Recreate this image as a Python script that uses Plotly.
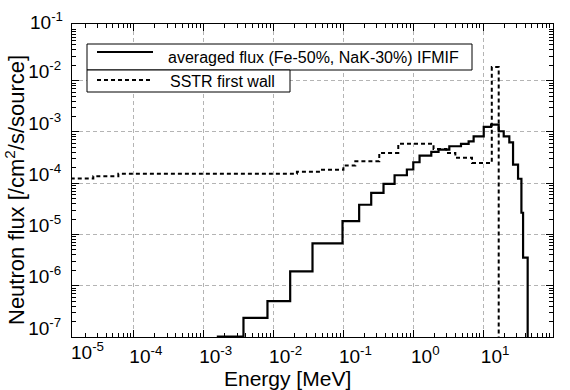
import plotly.graph_objects as go

# ---------------- data ----------------
# IFMIF averaged flux (Fe-50%, NaK-30%): bin edges [MeV] and flux per bin
ifmif_edges = [1.54e-3, 3.71e-3, 8.18e-3, 1.73e-2, 3.61e-2, 9.71e-2, 0.168, 0.25, 0.375,
               0.54, 0.81, 1.0, 1.23, 1.81, 2.3, 3.28, 4.82, 6.2, 7.31, 10.2, 13.0,
               16.7, 19.7, 23.7, 26.8, 31.6, 35.3, 37.3, 43.4]
ifmif_flux = [1.02e-7, 2.36e-7, 4.99e-7, 1.91e-6, 6.71e-6, 1.82e-5, 3.80e-5, 6.50e-5,
              9.73e-5, 1.43e-4, 1.85e-4, 2.56e-4, 3.46e-4, 4.08e-4, 4.53e-4, 5.25e-4,
              5.85e-4, 6.56e-4, 8.21e-4, 1.25e-3, 1.39e-3, 1.03e-3, 8.21e-4, 6.28e-4,
              2.31e-4, 1.22e-4, 2.65e-5, 3.54e-6]

# SSTR first wall
sstr_edges = [1.25e-5, 2.63e-5, 6.0e-5, 2.16e-2, 4.65e-2, 0.100, 0.148, 0.326, 0.61,
              1.95, 2.97, 4.0, 6.93, 13.3, 16.7]
sstr_flux = [1.23e-4, 1.37e-4, 1.53e-4, 1.67e-4, 1.82e-4, 2.21e-4, 2.68e-4, 3.90e-4,
             5.85e-4, 4.67e-4, 3.90e-4, 3.12e-4, 2.49e-4, 1.84e-2]
floor_value = 1e-9  # drop below the axis after the last bin

x_tickvals = [1e-4, 1e-3, 1e-2, 1e-1, 1, 10, 100]
x_ticktext = ["10<sup>-4</sup>", "10<sup>-3</sup>", "10<sup>-2</sup>", "10<sup>-1</sup>",
              "10<sup>0</sup>", "10<sup>1</sup>", "10<sup>2</sup>"]
y_tickvals = [1e-7, 1e-6, 1e-5, 1e-4, 1e-3, 1e-2]
y_ticktext = ["10<sup>-7</sup>", "10<sup>-6</sup>", "10<sup>-5</sup>", "10<sup>-4</sup>",
              "10<sup>-3</sup>", "10<sup>-2</sup>"]
x_end_label = "10<sup>-5</sup>"
y_end_label = "10<sup>-1</sup>"

legend_labels = ["averaged flux (Fe-50%, NaK-30%) IFMIF", "SSTR first wall"]
x_title = "Energy [MeV]"
y_title = "Neutron flux [/cm<sup>2</sup>/s/source]"

FONT = "Liberation Sans, Arial, Helvetica, sans-serif"

# ---------------- figure ----------------
W, H = 570, 390
L, R, T, B = 72, 17, 24, 53

fig = go.Figure()

fig.add_trace(go.Scatter(
    x=sstr_edges, y=sstr_flux + [floor_value], mode="lines", line_shape="hv",
    line=dict(color="black", width=2, dash="4px,3px"), showlegend=False,
    cliponaxis=True, hoverinfo="skip"))
fig.add_trace(go.Scatter(
    x=ifmif_edges, y=ifmif_flux + [floor_value], mode="lines", line_shape="hv",
    line=dict(color="black", width=2.2), showlegend=False, cliponaxis=True,
    hoverinfo="skip"))

axis_common = dict(
    type="log", showline=True, linecolor="black", linewidth=1, mirror="allticks",
    ticks="inside", ticklen=7, tickwidth=1, tickcolor="black",
    showgrid=True, gridcolor="#b4b4b4", gridwidth=1, griddash="4px,3px",
    zeroline=False, tickfont=dict(family=FONT, size=19, color="black"),
    minor=dict(ticks="inside", ticklen=4, tickwidth=1, tickcolor="black",
               dtick="D1", showgrid=False),
)

fig.update_xaxes(range=[-4.885, 2.0], tickvals=x_tickvals, ticktext=x_ticktext,
                 ticklabelshift=12, ticklabelstandoff=2, **axis_common)
fig.update_yaxes(range=[-7.0, -0.895], tickvals=y_tickvals, ticktext=y_ticktext,
                 ticklabelshift=-9, ticklabelstandoff=6, **axis_common)

pw, ph = W - L - R, H - T - B


def px(xp):
    return (xp - L) / pw


def py(yp):
    return (H - B - yp) / ph


shapes = [
    dict(type="rect", xref="paper", yref="paper", x0=px(87), x1=px(472), y0=py(70), y1=py(44),
         line=dict(color="black", width=1), fillcolor="white", layer="above"),
    dict(type="rect", xref="paper", yref="paper", x0=px(87), x1=px(290), y0=py(92), y1=py(70),
         line=dict(color="black", width=1), fillcolor="white", layer="above"),
    dict(type="line", xref="paper", yref="paper", x0=px(97), x1=px(153), y0=py(52), y1=py(52),
         line=dict(color="black", width=2)),
    dict(type="line", xref="paper", yref="paper", x0=px(97), x1=px(153), y0=py(80), y1=py(80),
         line=dict(color="black", width=2, dash="4px,3px")),
]

annotations = [
    dict(text=legend_labels[0], xref="paper", yref="paper", x=px(166), y=py(57),
         xanchor="left", yanchor="middle", showarrow=False,
         font=dict(family=FONT, size=16, color="black")),
    dict(text=legend_labels[1], xref="paper", yref="paper", x=px(168), y=py(81),
         xanchor="left", yanchor="middle", showarrow=False,
         font=dict(family=FONT, size=16, color="black")),
    dict(text=x_title, xref="paper", yref="paper", x=px(287), y=py(378),
         xanchor="center", yanchor="middle", showarrow=False,
         font=dict(family=FONT, size=21, color="black")),
    dict(text=y_title, xref="paper", yref="paper", x=px(15), y=py(190),
         xanchor="center", yanchor="middle", showarrow=False, textangle=-90,
         font=dict(family=FONT, size=22, color="black")),
    dict(text=x_end_label, xref="paper", yref="paper", x=px(87), y=py(351),
         xanchor="center", yanchor="middle", showarrow=False,
         font=dict(family=FONT, size=19, color="black")),
    dict(text=y_end_label, xref="paper", yref="paper", x=px(65), y=py(21),
         xanchor="right", yanchor="middle", showarrow=False,
         font=dict(family=FONT, size=19, color="black")),
]

fig.update_layout(
    width=W, height=H, margin=dict(l=L, r=R, t=T, b=B),
    paper_bgcolor="white", plot_bgcolor="white", showlegend=False,
    shapes=shapes, annotations=annotations, hovermode=False,
    font=dict(family=FONT, color="black"),
)

fig.write_html("out.html", config={"displayModeBar": False, "staticPlot": True},
               post_script="document.body.style.margin='0';document.body.style.overflow='hidden';")
